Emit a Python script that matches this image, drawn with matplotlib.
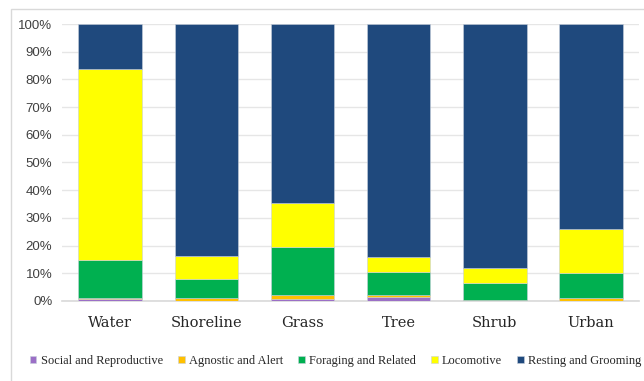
import matplotlib.pyplot as plt
from matplotlib.patches import Rectangle
from matplotlib.ticker import PercentFormatter
import numpy as np

habitats = ["Water", "Shoreline", "Grass", "Tree", "Shrub", "Urban"]
behaviours = ["Social and Reproductive", "Agnostic and Alert",
              "Foraging and Related", "Locomotive", "Resting and Grooming"]

# percent of observations per habitat
social = [0.7, 0.0, 0.8, 1.4, 0.0, 0.0]
agnostic = [0.4, 1.2, 1.4, 0.8, 0.5, 1.2]
foraging = [13.7, 6.6, 17.4, 8.4, 5.9, 8.8]
locomotive = [69.0, 8.6, 15.8, 5.2, 5.4, 15.9]
resting = [16.2, 83.6, 64.6, 84.2, 88.2, 74.1]

colors = ["#9b6fc6", "#ffc000", "#00b050", "#ffff00", "#1f497d"]

fig = plt.figure(figsize=(6.44, 3.81), dpi=100)
ax = fig.add_axes([0.0963, 0.21, 0.896, 0.727])

# outer chart border
fig.patches.append(Rectangle((11 / 644, -0.1), 1.2, 1 - 9 / 381 + 0.1,
                             transform=fig.transFigure, fill=False,
                             edgecolor="#d9d9d9", linewidth=1.0))

x = np.arange(len(habitats))
bottom = np.zeros(len(habitats))
series = [social, agnostic, foraging, locomotive, resting]
for name, vals, col in zip(behaviours, series, colors):
    vals = np.array(vals) / 100.0
    ax.bar(x, vals, 0.66, bottom=bottom, color=col, label=name,
           edgecolor="#c8d0dc", linewidth=0.4, zorder=3)
    bottom += vals

ax.set_xlim(-0.5, 5.5)
ax.set_ylim(0, 1)
ax.set_yticks(np.arange(0, 1.01, 0.1))
ax.yaxis.set_major_formatter(PercentFormatter(1.0, decimals=0))
ax.grid(axis="y", color="#e6e6e6", linewidth=1.0, zorder=0)
for s in ["top", "right", "left"]:
    ax.spines[s].set_visible(False)
ax.spines["bottom"].set_color("#d9d9d9")
ax.spines["bottom"].set_linewidth(1.2)
ax.tick_params(axis="both", length=0)
ax.tick_params(axis="y", pad=7, labelsize=9.5, labelcolor="#404040")
for lbl in ax.get_yticklabels():
    lbl.set_fontfamily("Liberation Sans")
ax.tick_params(axis="x", pad=11)
ax.set_xticks(x)
ax.set_xticklabels(habitats, fontfamily="DejaVu Serif", fontsize=10.5,
                   color="#262626")

leg = fig.legend(loc="center", bbox_to_anchor=(0.521, 0.053), ncol=5,
                 frameon=False, prop={"family": "Liberation Serif", "size": 8.9},
                 handlelength=0.55, handleheight=0.55, handletextpad=0.35,
                 columnspacing=1.2, labelcolor="#262626")

fig.savefig("out.png", dpi=100)
